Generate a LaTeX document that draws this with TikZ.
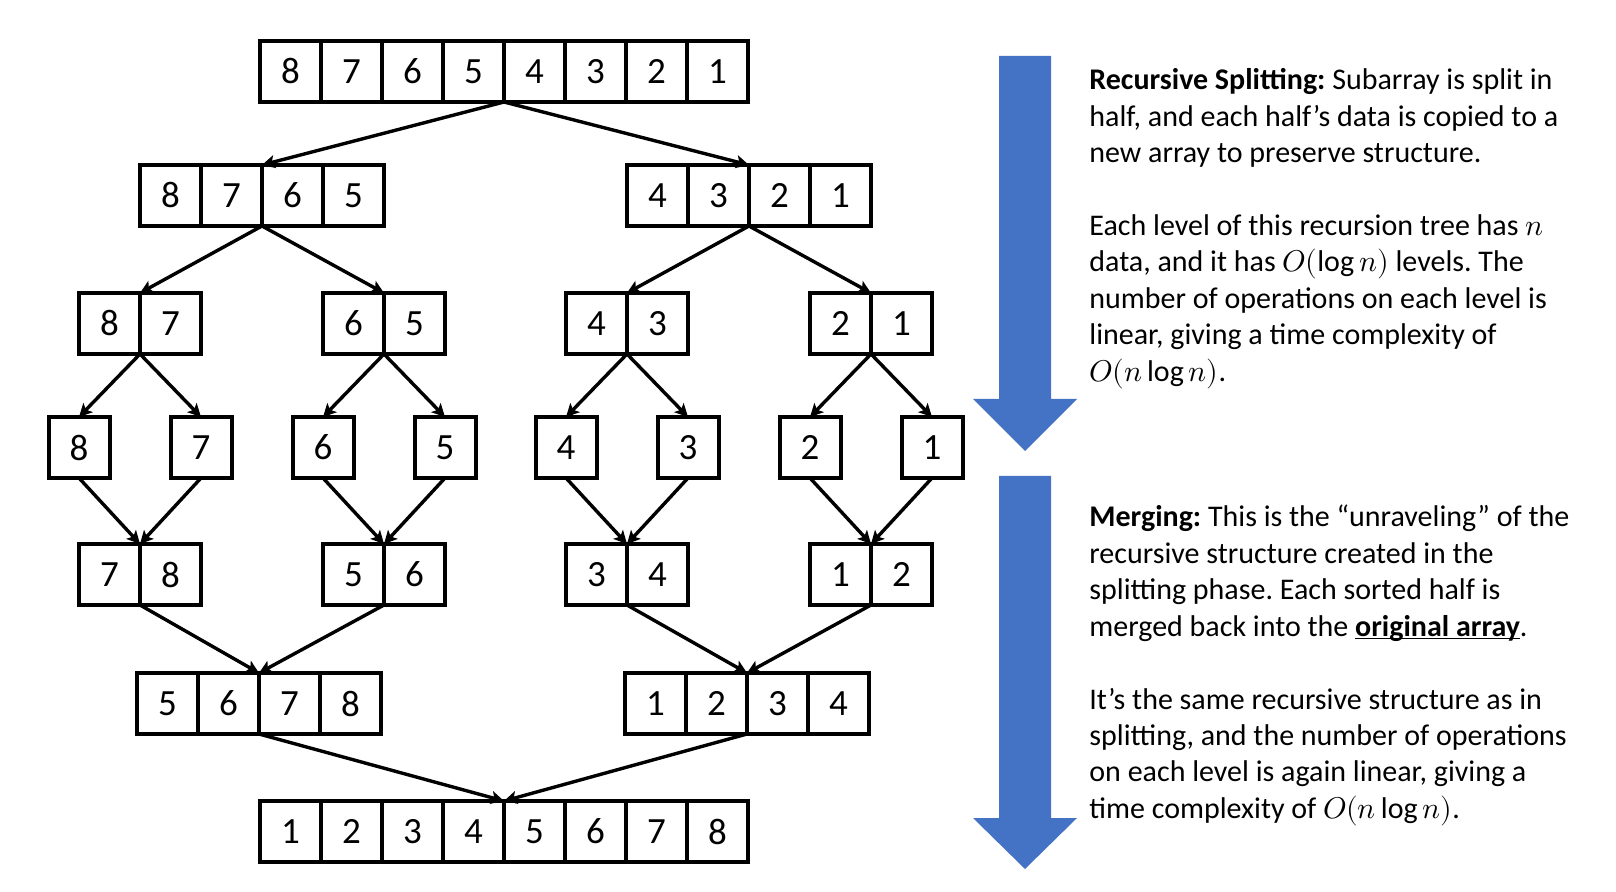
\documentclass[tikz,border=0pt]{standalone}
\usepackage{fontspec}
\usepackage{unicode-math}
\setmainfont{Carlito}
\setmathfont{Latin Modern Math}
\usetikzlibrary{arrows.meta}
\definecolor{officeblue}{HTML}{4472C4}
\frenchspacing
\newcommand\closeul[1]{{\setbox0\hbox{#1}\rlap{\rule[-1.6pt]{\wd0}{0.9pt}}\box0}}
\tikzset{
  cell/.style={draw, line width=2pt, minimum width=30.5pt, minimum height=30.5pt,
    inner sep=0pt, outer sep=0pt, anchor=north west, font=\fontsize{18.5}{20}\selectfont},
  link/.style={line width=1.7pt, -{Stealth[length=6.5pt,width=6.5pt,inset=1.5pt]}},
  txt/.style={anchor=base west, inner sep=0pt, font=\fontsize{15}{18}\selectfont},
  bigarrow/.style={fill=officeblue}
}
\begin{document}
\begin{tikzpicture}[x=0.5pt,y=-0.5pt]
\useasboundingbox (0,0) rectangle (1616,892);
% arrays
\foreach \v [count=\i] in {8,7,6,5,4,3,2,1} \node[cell] (A1-\i) at ({260+61*(\i-1)},41) {\v};
\foreach \v [count=\i] in {8,7,6,5} \node[cell] (B1-\i) at ({140+61*(\i-1)},165) {\v};
\foreach \v [count=\i] in {4,3,2,1} \node[cell] (B2-\i) at ({627+61*(\i-1)},165) {\v};
\foreach \v [count=\i] in {8,7} \node[cell] (C1-\i) at ({79+61*(\i-1)},293) {\v};
\foreach \v [count=\i] in {6,5} \node[cell] (C2-\i) at ({323+61*(\i-1)},293) {\v};
\foreach \v [count=\i] in {4,3} \node[cell] (C3-\i) at ({566+61*(\i-1)},293) {\v};
\foreach \v [count=\i] in {2,1} \node[cell] (C4-\i) at ({810+61*(\i-1)},293) {\v};
\foreach \v/\x [count=\i] in {8/79,7/201,6/323,5/445,4/566,3/688,2/810,1/932}
  \node[cell] (D\i) at ({\x-30.5},417) {\v};
\foreach \v [count=\i] in {7,8} \node[cell] (E1-\i) at ({79+61*(\i-1)},544) {\v};
\foreach \v [count=\i] in {5,6} \node[cell] (E2-\i) at ({323+61*(\i-1)},544) {\v};
\foreach \v [count=\i] in {3,4} \node[cell] (E3-\i) at ({566+61*(\i-1)},544) {\v};
\foreach \v [count=\i] in {1,2} \node[cell] (E4-\i) at ({810+61*(\i-1)},544) {\v};
\foreach \v [count=\i] in {5,6,7,8} \node[cell] (F1-\i) at ({137+61*(\i-1)},673) {\v};
\foreach \v [count=\i] in {1,2,3,4} \node[cell] (F2-\i) at ({625+61*(\i-1)},673) {\v};
\foreach \v [count=\i] in {1,2,3,4,5,6,7,8} \node[cell] (G1-\i) at ({260+61*(\i-1)},801) {\v};
% splitting connectors
\draw[link] (A1-4.south east) -- (B1-2.north east);
\draw[link] (A1-4.south east) -- (B2-2.north east);
\draw[link] (B1-2.south east) -- (C1-1.north east);
\draw[link] (B1-2.south east) -- (C2-1.north east);
\draw[link] (B2-2.south east) -- (C3-1.north east);
\draw[link] (B2-2.south east) -- (C4-1.north east);
\draw[link] (C1-1.south east) -- (D1.north);
\draw[link] (C1-1.south east) -- (D2.north);
\draw[link] (C2-1.south east) -- (D3.north);
\draw[link] (C2-1.south east) -- (D4.north);
\draw[link] (C3-1.south east) -- (D5.north);
\draw[link] (C3-1.south east) -- (D6.north);
\draw[link] (C4-1.south east) -- (D7.north);
\draw[link] (C4-1.south east) -- (D8.north);
% merging connectors
\draw[link] (D1.south) -- (E1-1.north east);
\draw[link] (D2.south) -- (E1-1.north east);
\draw[link] (D3.south) -- (E2-1.north east);
\draw[link] (D4.south) -- (E2-1.north east);
\draw[link] (D5.south) -- (E3-1.north east);
\draw[link] (D6.south) -- (E3-1.north east);
\draw[link] (D7.south) -- (E4-1.north east);
\draw[link] (D8.south) -- (E4-1.north east);
\draw[link] (E1-1.south east) -- (F1-2.north east);
\draw[link] (E2-1.south east) -- (F1-2.north east);
\draw[link] (E3-1.south east) -- (F2-2.north east);
\draw[link] (E4-1.south east) -- (F2-2.north east);
\draw[link] (F1-2.south east) -- (G1-4.north east);
\draw[link] (F2-2.south east) -- (G1-4.north east);
% big blue arrows
\fill[bigarrow] (999,56) -- (1051,56) -- (1051,399) -- (1077,399) -- (1025,451) -- (973,399) -- (999,399) -- cycle;
\fill[bigarrow] (999,476) -- (1051,476) -- (1051,818) -- (1077,818) -- (1025,869) -- (973,818) -- (999,818) -- cycle;
% texts
\node[txt] (t1) at (1089,90) {\textbf{Recursive Splitting:} Subarray is split in};
\node[txt] (t2) at (1089,126.4) {half, and each half’s data is copied to a};
\node[txt] (t3) at (1089,162.8) {new array to preserve structure.};
\node[txt] (t4) at (1089,235.6) {Each level of this recursion tree has $n$};
\node[txt] (t5) at (1089,272) {data, and it has $O(\log n)$ levels. The};
\node[txt] (t6) at (1089,308.4) {number of operations on each level is};
\node[txt] (t7) at (1089,344.8) {linear, giving a time complexity of};
\node[txt] (t8) at (1089,381.2) {$O(n\log n)$.};
\node[txt] (t9) at (1089,527) {\textbf{Merging:} This is the “unraveling” of the};
\node[txt] (t10) at (1089,563.4) {recursive structure created in the};
\node[txt] (t11) at (1089,599.8) {splitting phase. Each sorted half is};
\node[txt] (t12) at (1089,636.2) {merged back into the \closeul{\textbf{original array}}.};
\node[txt] (t13) at (1089,709) {It’s the same recursive structure as in};
\node[txt] (t14) at (1089,745.4) {splitting, and the number of operations};
\node[txt] (t15) at (1089,781.8) {on each level is again linear, giving a};
\node[txt] (t16) at (1089,818.2) {time complexity of $O(n\log n)$.};
\end{tikzpicture}
\end{document}
